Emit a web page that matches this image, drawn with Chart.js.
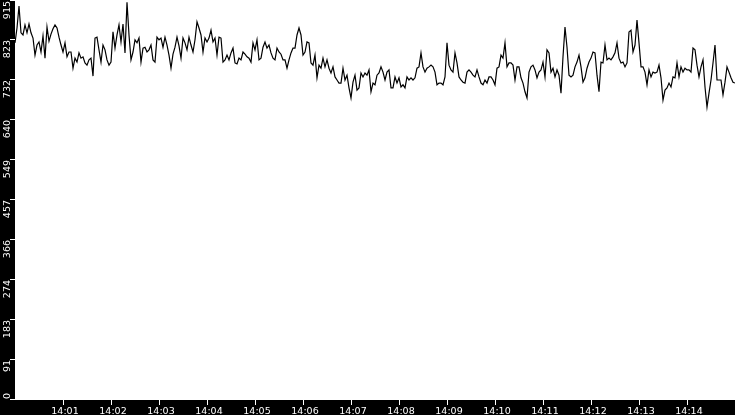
<!DOCTYPE html>
<html>
<head>
<meta charset="utf-8">
<script src="https://cdn.jsdelivr.net/npm/chart.js@4.4.1/dist/chart.umd.min.js"></script>
<style>
  html, body { margin: 0; padding: 0; background: #000; }
  #chart { display: block; }
</style>
</head>
<body>
<canvas id="chart" width="735" height="415"></canvas>
<script>
// readings, one every 2.5 s, grouped by minute (14:00 .. 14:14)
const min00 = [817, 851, 901, 840, 835, 858, 840, 860, 840, 828, 789, 812, 819, 796, 833, 782, 853, 821, 837, 849, 858, 851, 830, 812];
const min01 = [796, 817, 785, 796, 796, 759, 782, 773, 794, 782, 785, 771, 766, 778, 782, 741, 828, 830, 801, 773, 812, 801, 778, 766];
const min02 = [773, 842, 805, 835, 858, 819, 860, 794, 910, 835, 778, 796, 824, 817, 828, 773, 805, 807, 796, 801, 812, 778, 773, 830];
const min03 = [824, 828, 807, 830, 812, 789, 759, 791, 807, 830, 810, 782, 828, 817, 801, 830, 812, 796, 824, 865, 851, 835, 796, 828];
const min04 = [819, 828, 846, 819, 828, 789, 830, 828, 773, 778, 789, 778, 794, 805, 771, 769, 782, 778, 796, 791, 785, 782, 773, 817];
const min05 = [801, 824, 778, 782, 807, 819, 805, 812, 794, 782, 778, 805, 796, 791, 778, 778, 759, 778, 794, 805, 805, 835, 851, 835];
const min06 = [789, 796, 819, 817, 771, 766, 789, 737, 766, 759, 782, 762, 778, 759, 748, 762, 739, 732, 725, 725, 759, 732, 743, 714];
const min07 = [691, 727, 743, 709, 714, 748, 739, 748, 743, 755, 705, 725, 721, 743, 748, 762, 750, 732, 750, 755, 714, 714, 739, 725];
const min08 = [737, 716, 721, 714, 739, 732, 737, 732, 737, 759, 762, 794, 762, 750, 759, 762, 766, 762, 750, 721, 725, 725, 721, 739];
const min09 = [817, 766, 755, 750, 794, 771, 739, 732, 727, 725, 750, 755, 750, 743, 739, 755, 739, 725, 721, 732, 725, 739, 739, 732];
const min10 = [721, 759, 762, 789, 782, 817, 762, 771, 771, 766, 732, 762, 762, 737, 725, 705, 691, 750, 762, 766, 755, 737, 750, 755];
const min11 = [773, 739, 801, 794, 750, 759, 739, 755, 743, 702, 785, 853, 807, 743, 739, 743, 762, 773, 789, 762, 727, 737, 759, 773];
const min12 = [782, 796, 794, 743, 705, 773, 771, 812, 778, 782, 778, 785, 794, 817, 782, 771, 773, 762, 771, 842, 846, 796, 812, 869];
const min13 = [817, 762, 762, 750, 721, 755, 739, 750, 748, 750, 766, 737, 686, 709, 714, 725, 716, 739, 737, 771, 739, 762, 750, 759];
const min14 = [755, 755, 750, 805, 801, 766, 739, 762, 778, 716, 670, 702, 732, 771, 812, 732, 732, 732, 698, 727, 762, 750, 737, 727, 725];

const stepSeconds = 2.5;

// axis ticks
const xTickSeconds = [60, 120, 180, 240, 300, 360, 420, 480, 540, 600, 660, 720, 780, 840];
const xTickLabels = ['14:01', '14:02', '14:03', '14:04', '14:05', '14:06', '14:07', '14:08', '14:09', '14:10', '14:11', '14:12', '14:13', '14:14'];
const yTickValues = [0, 91.5, 183, 274.5, 366, 457.5, 549, 640.5, 732, 823.5, 915];
const yTickLabels = ['0', '91', '183', '274', '366', '457', '549', '640', '732', '823', '915'];

const minutes = [min00, min01, min02, min03, min04, min05, min06, min07, min08, min09, min10, min11, min12, min13, min14];
let points = [];
minutes.forEach(arr => {
  arr.forEach(v => {
    points.push({ x: points.length * stepSeconds, y: v });
  });
});

// black frame, white plot area, white ticks + labels
const axisPlugin = {
  id: 'blackAxes',
  beforeDraw(chart) {
    const ctx = chart.ctx;
    const a = chart.chartArea;
    ctx.save();
    ctx.fillStyle = '#000';
    ctx.fillRect(0, 0, chart.width, chart.height);
    ctx.fillStyle = '#fff';
    ctx.fillRect(a.left, a.top, a.right - a.left, a.bottom - a.top);
    ctx.restore();
  },
  afterDraw(chart) {
    const ctx = chart.ctx;
    const a = chart.chartArea;
    const xs = chart.scales.x;
    const ys = chart.scales.y;
    ctx.save();
    ctx.strokeStyle = '#fff';
    ctx.fillStyle = '#fff';
    ctx.lineWidth = 1;

    // x axis
    ctx.font = '9.5px "DejaVu Sans"';
    ctx.textAlign = 'center';
    ctx.textBaseline = 'alphabetic';
    xTickSeconds.forEach((s, i) => {
      const px = Math.round(xs.getPixelForValue(s)) + 0.5;
      ctx.beginPath();
      ctx.moveTo(px, a.bottom);
      ctx.lineTo(px, a.bottom + 5);
      ctx.stroke();
      ctx.fillText(xTickLabels[i], px + 1.5, a.bottom + 13.5);
    });

    // y axis, labels turned to read upwards
    yTickValues.forEach((v, i) => {
      const py = Math.max(0.5, Math.round(ys.getPixelForValue(v)) - 0.5);
      ctx.beginPath();
      ctx.moveTo(a.left - 5, py);
      ctx.lineTo(a.left, py);
      ctx.stroke();
      ctx.save();
      ctx.translate(a.left - 5.5, py);
      ctx.rotate(-Math.PI / 2);
      if (i === 0) {
        ctx.textAlign = 'left';
        ctx.fillText(yTickLabels[i], 0.5, 0);
      } else {
        ctx.textAlign = 'right';
        ctx.fillText(yTickLabels[i], -0.5, 0);
      }
      ctx.restore();
    });
    ctx.restore();
  }
};

const chart = new Chart(document.getElementById('chart'), {
  type: 'line',
  data: {
    datasets: [{
      data: points,
      borderColor: '#000',
      borderWidth: 1.2,
      pointRadius: 0,
      tension: 0,
      fill: false
    }]
  },
  options: {
    responsive: false,
    animation: false,
    devicePixelRatio: 1,
    layout: { padding: { left: 15, bottom: 15, top: 0, right: 0 } },
    plugins: {
      legend: { display: false },
      tooltip: { enabled: false }
    },
    scales: {
      x: { type: 'linear', min: 0, max: 900, display: false },
      y: { min: 0, max: 915, display: false }
    }
  },
  plugins: [axisPlugin]
});
</script>
</body>
</html>
